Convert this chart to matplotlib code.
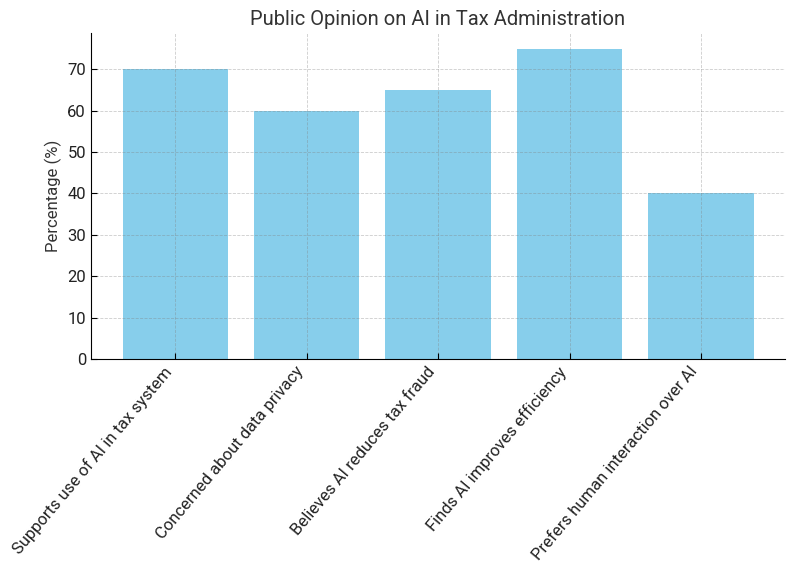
import numpy as np
import matplotlib.pyplot as plt

plt.rcParams['font.family'] = ['Roboto', 'DejaVu Sans']

categories = ['Supports use of AI in tax system', 'Concerned about data privacy',
              'Believes AI reduces tax fraud', 'Finds AI improves efficiency',
              'Prefers human interaction over AI']
percentages = [70, 60, 65, 75, 40]

fig = plt.figure(figsize=(7.87, 5.69), dpi=100)
ax = fig.add_axes([0.1156, 0.369, 0.882, 0.573])

ax.bar(categories, percentages, color='skyblue', width=0.8)
ax.set_title('Public Opinion on AI in Tax Administration', fontsize=14.5, color='#333333')
ax.set_ylabel('Percentage (%)', fontsize=12, color='#333333')
ax.set_xticks(range(len(categories)))
ax.set_xticklabels(categories, rotation=50, ha='right', fontsize=12, color='#222222')
ax.tick_params(axis='y', labelsize=12, labelcolor='#222222')
ax.tick_params(direction='in', length=4)
ax.grid(True, linestyle='--', linewidth=0.6, color='gray', alpha=0.4)
ax.set_axisbelow(False)
ax.spines['top'].set_visible(False)
ax.spines['right'].set_visible(False)

fig.savefig('out.png', dpi=100)
